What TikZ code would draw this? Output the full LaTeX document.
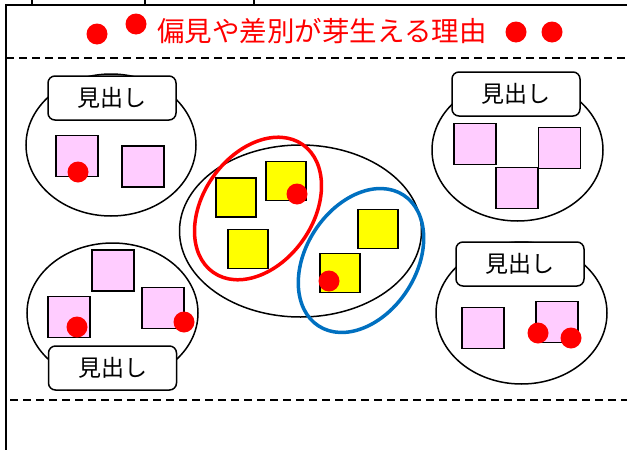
\documentclass[tikz,border=0pt]{standalone}
\usepackage{fontspec}
\usetikzlibrary{shapes.geometric}
\setmainfont{Noto Sans CJK JP}
\definecolor{pinkfill}{HTML}{FFCCFF}
\definecolor{yel}{HTML}{FFFF00}
\definecolor{bluering}{HTML}{0070C0}
\definecolor{redc}{HTML}{FF0000}
\begin{document}
\begin{tikzpicture}[x=1pt,y=-1pt,
  grp/.style={draw=black,line width=1.5pt,shape=ellipse,inner sep=0pt},
  headbox/.style={draw=black,fill=white,line width=1.5pt,rounded corners=7pt,minimum width=128pt,minimum height=44pt,inner sep=0pt,font=\fontsize{23}{23}\selectfont},
  pinkbox/.style={draw=black,fill=pinkfill,line width=1.6pt,minimum width=42pt,minimum height=41pt,inner sep=0pt},
  yellowbox/.style={draw=black,fill=yel,line width=1.6pt,minimum width=40pt,minimum height=39pt,inner sep=0pt},
  reddot/.style={circle,fill=redc,minimum size=21pt,inner sep=0pt},
  ring/.style={shape=ellipse,line width=3.5pt,minimum width=156pt,minimum height=110pt,inner sep=0pt},
  frame/.style={line width=1.5pt},
  sep/.style={line width=1.5pt,dash pattern=on 8pt off 5pt}]
\useasboundingbox (0,0) rectangle (627,450);
% frame
\coordinate (f1) at (6,5); \coordinate (f2) at (627,5); \coordinate (f3) at (6,450);
\draw[frame] (f2) -- (f1) -- (f3);
\coordinate (t1a) at (32,0); \coordinate (t1b) at (32,5);
\coordinate (t2a) at (145,0); \coordinate (t2b) at (145,5);
\coordinate (t3a) at (254,0); \coordinate (t3b) at (254,5);
\draw[frame] (t1a) -- (t1b) (t2a) -- (t2b) (t3a) -- (t3b);
\coordinate (d1a) at (6,58); \coordinate (d1b) at (627,58);
\coordinate (d2a) at (10,400); \coordinate (d2b) at (627,400);
\draw[sep] (d1a) -- (d1b);
\draw[sep] (d2a) -- (d2b);
% title
\node[text=redc,font=\fontsize{27.5}{27.5}\selectfont,inner sep=0pt] (title) at (322,31) {偏見や差別が芽生える理由};
\node[reddot] (td1) at (97,34) {};
\node[reddot] (td2) at (136,24) {};
\node[reddot] (td3) at (516,32) {};
\node[reddot] (td4) at (552,32) {};
% top-left group
\node[grp,minimum width=170pt,minimum height=142pt] (gTL) at (111,145) {};
\node[headbox] (hTL) at (112,98) {見出し};
\node[pinkbox] (a1) at (77,156) {};
\node[pinkbox] (a2) at (143,166.5) {};
\node[reddot] (ad1) at (78,172) {};
% bottom-left group
\node[grp,minimum width=171pt,minimum height=140pt] (gBL) at (112.5,313) {};
\node[headbox] (hBL) at (112.5,368) {見出し};
\node[pinkbox] (b1) at (113,270.5) {};
\node[pinkbox] (b2) at (69,317) {};
\node[pinkbox] (b3) at (163,308) {};
\node[reddot] (bd1) at (77,327) {};
\node[reddot] (bd2) at (184,322) {};
% top-right group
\node[grp,minimum width=171pt,minimum height=142pt] (gTR) at (517.5,150) {};
\node[headbox] (hTR) at (516,94) {見出し};
\node[pinkbox] (c1) at (475,144) {};
\node[pinkbox] (c2) at (559.5,148) {};
\node[pinkbox] (c3) at (517,188) {};
% bottom-right group
\node[grp,minimum width=171pt,minimum height=142pt] (gBR) at (521.5,313) {};
\node[headbox] (hBR) at (520,264) {見出し};
\node[pinkbox] (e1) at (483,328) {};
\node[pinkbox] (e2) at (557,322) {};
\node[reddot] (ed1) at (538,333) {};
\node[reddot] (ed2) at (571,338) {};
% center group
\node[grp,minimum width=242pt,minimum height=172pt] (gC) at (300.5,231) {};
\node[yellowbox] (y1) at (236,197.5) {};
\node[yellowbox] (y2) at (286,181) {};
\node[yellowbox] (y3) at (248,249) {};
\node[yellowbox] (y4) at (378,229) {};
\node[yellowbox] (y5) at (340,273) {};
\node[ring,draw=redc,rotate=55] (rr) at (258,208.5) {};
\node[ring,draw=bluering,rotate=57] (rb) at (361,260.5) {};
\node[reddot] (yd1) at (297,194) {};
\node[reddot] (yd2) at (329,281) {};
\end{tikzpicture}
\end{document}
